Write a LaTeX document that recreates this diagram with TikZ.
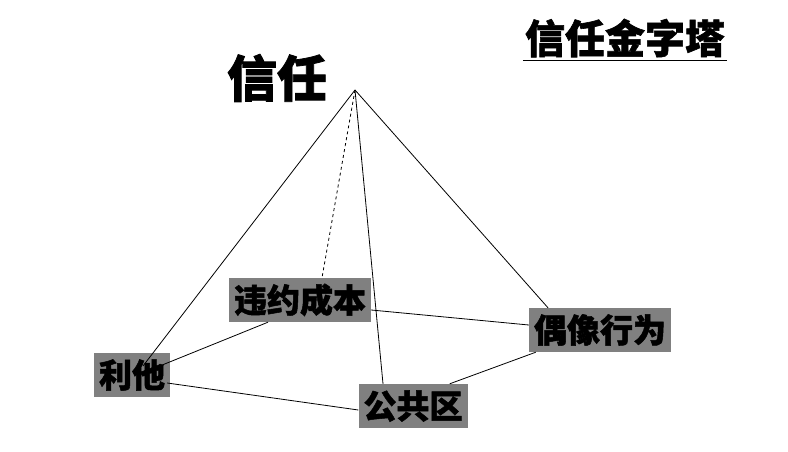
\documentclass[tikz,border=0pt]{standalone}
\usepackage{fontspec}
\newfontfamily\cjk[BoldFeatures={FakeBold=1.5}]{Noto Sans CJK SC}
\usetikzlibrary{calc,positioning}
\tikzset{
  edge/.style={line width=0.8pt, draw=black},
  lbl/.style={fill=black!50, inner xsep=5pt, inner ysep=0pt, minimum height=44pt,
    text height=29pt, text depth=4pt, font=\cjk\bfseries\fontsize{33}{33}\selectfont},
  bigtxt/.style={inner sep=0pt, font=\cjk\bfseries\fontsize{50}{50}\selectfont},
  ttl/.style={inner sep=0pt, text height=35pt, text depth=4pt, font=\cjk\bfseries\fontsize{40}{40}\selectfont}
}
\begin{document}
\begin{tikzpicture}[x=1pt,y=-1pt]
  \useasboundingbox (0,0) rectangle (788,452);
  % labels
  \node[ttl] (title) at (625,38) {信任金字塔};
  \draw[line width=1.5pt] ($(title.south west)+(-2,3)$) -- ($(title.south east)+(2,3)$);
  \node[bigtxt] (trust) at (277,78) {信任};
  \coordinate (apex) at (355,90);
  \node[lbl] (lita) at (132,375) {利他};
  \node[lbl] (weiyue) at (300,300) {违约成本};
  \node[lbl] (gonggong) at (413,406) {公共区};
  \node[lbl] (ouxiang) at (600,330) {偶像行为};
  % pyramid edges
  \draw[edge] (apex) -- ($(lita.center)+(11,-9)$);
  \draw[edge, dashed] (apex) -- ($(weiyue.north)+(22,0)$);
  \draw[edge] (apex) -- ($(gonggong.north)+(-30,0)$);
  \draw[edge] (apex) -- ($(ouxiang.north)+(-52,0)$);
  % base
  \draw[edge] ($(lita.east)+(-8,-10)$) -- ($(weiyue.south)+(-32,0)$);
  \draw[edge] ($(lita.east)+(-3,8)$) -- ($(gonggong.west)+(0,4)$);
  \draw[edge] ($(weiyue.east)+(0,10)$) -- ($(ouxiang.west)+(0,-5)$);
  \draw[edge] ($(gonggong.north east)+(-18,0)$) -- ($(ouxiang.south west)+(7,0)$);
\end{tikzpicture}
\end{document}
